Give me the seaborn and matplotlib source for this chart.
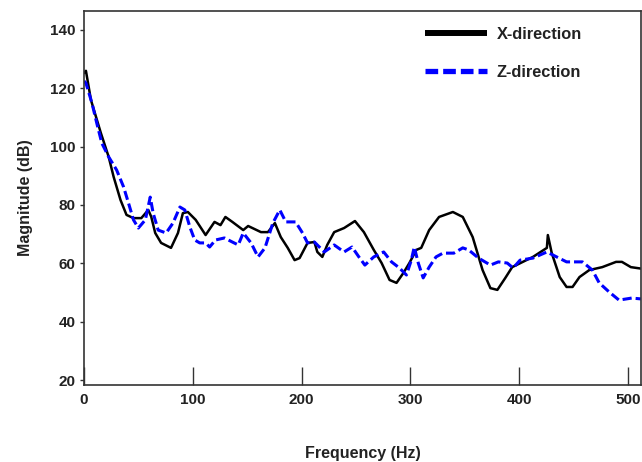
import matplotlib.pyplot as plt
import seaborn as sns
import pandas as pd

sns.set_theme(style="white")
plt.rcParams['font.family'] = ['Liberation Sans', 'DejaVu Sans']
plt.rcParams['font.weight'] = 'bold'

# X-direction response (frequency in Hz, magnitude in dB)
x_freq = [0, 1.8, 6.4, 15.5, 22.7, 27.3, 33.6, 39.1, 45.5, 52.7, 59.1, 61.8, 65.5, 70.9,
          80, 86.4, 90.9, 95.5, 102.7, 111.8, 120, 125.5, 130, 136.4, 146.4, 150.9,
          162.7, 169.1, 175.5, 180.9, 187.3, 193.6, 198.2, 205.5, 211.8, 214.5, 219.1,
          223.6, 230, 239.1, 249.1, 257.3, 266.4, 273.6, 280.9, 287.3, 293.6, 299.1,
          305.5, 310, 317.3, 326.4, 339.1, 348.2, 357.3, 366.4, 373.6, 380, 387.3,
          393.6, 412.7, 425.5, 426.4, 430, 437.3, 443.6, 449.1, 455.5, 464.5, 476.4,
          489.1, 494.5, 502.7, 512]
x_mag = [125.2, 126, 116, 104.7, 96.5, 89.6, 81.7, 76.6, 75.5, 75.5, 78.3, 76, 70.4, 67,
         65.3, 70.4, 77.2, 77.6, 74.9, 69.7, 74.2, 73.1, 75.9, 74.2, 71.4, 72.8,
         70.7, 70.7, 73.8, 69, 65.3, 61.1, 61.8, 67, 67.3, 63.9, 62.2,
         66.3, 70.7, 72.1, 74.5, 70.7, 64.6, 60.1, 54.3, 53.3, 56.7, 60.1,
         64.6, 65.3, 71.4, 75.9, 77.6, 75.9, 69, 57.7, 51.5, 50.9, 55,
         58.7, 62.2, 65.3, 69.7, 63.5, 55.3, 51.9, 51.9, 55.3, 57.7, 58.7,
         60.5, 60.5, 58.7, 58.2]

# Z-direction response
z_freq = [0, 1.8, 7.3, 11.8, 16.4, 22.7, 30, 36.4, 40.9, 45.5, 50, 56.4, 60.9, 63.6,
          68.2, 75.5, 81.8, 88.2, 92.7, 97.3, 101.8, 106.4, 111.8, 115.5, 120.9, 129.1,
          136.4, 141.8, 146.4, 153.6, 160, 166.4, 173.6, 180, 185.5, 194.5, 200.9,
          205.5, 211.8, 220.9, 230, 239.1, 246.4, 252.7, 258.2, 266.4, 275.5, 282.7,
          290, 296.4, 300.9, 303.6, 307.3, 311.8, 317.3, 323.6, 330, 340, 348.2,
          353.6, 362.7, 373.6, 380.9, 389.1, 394.5, 400.9, 412.7, 425.5, 434.5,
          443.6, 458.2, 467.3, 473.6, 482.7, 491.8, 503.6, 512]
z_mag = [122.5, 121.8, 115, 108, 101.2, 96.5, 92, 86.2, 80.7, 74.9, 72.1, 74.9, 82.7, 77.2,
         71.4, 70.4, 73.8, 79.3, 78.3, 72.5, 68, 67, 67, 65.6, 68, 68.7,
         67.3, 66.3, 70.4, 67, 62.2, 65.3, 73.8, 78.3, 74.2, 74.2, 70.4,
         67, 67.3, 63.9, 66.3, 63.9, 65.6, 62.2, 59.4, 62.2, 63.9, 60.5,
         58.4, 56, 61.1, 65.6, 60.1, 55, 58.7, 62.2, 63.5, 63.5, 65.3,
         64.6, 61.8, 59.4, 60.5, 60.1, 58.4, 61.1, 61.8, 63.9, 62.2,
         60.5, 60.5, 57.7, 53.3, 50.2, 47.4, 48.1, 47.8]

df_x = pd.DataFrame({'freq': x_freq, 'mag': x_mag})
df_z = pd.DataFrame({'freq': z_freq, 'mag': z_mag})

fig = plt.figure(figsize=(6.42, 4.62), dpi=100)
ax = fig.add_axes([0.1308, 0.1667, 0.8676, 0.8095])

sns.lineplot(data=df_x, x='freq', y='mag', color='black', linewidth=1.8,
             label='X-direction', ax=ax, estimator=None, sort=False)
sns.lineplot(data=df_z, x='freq', y='mag', color='#0000ff', linewidth=2.2,
             dashes=False, label='Z-direction', ax=ax, estimator=None, sort=False)
ax.lines[1].set_dashes((3, 1.3))

ax.set_xlim(0, 512)
ax.set_ylim(18.3, 146.5)
ax.set_xticks([0, 100, 200, 300, 400, 500])
ax.set_yticks([20, 40, 60, 80, 100, 120, 140])

for s in ax.spines.values():
    s.set_color('#333333')
    s.set_linewidth(1.2)

ax.tick_params(axis='x', direction='in', length=13, width=1, color='#333333',
               labelsize=11, pad=6, labelcolor='#222222', bottom=True)
ax.tick_params(axis='y', direction='out', length=3, width=1, color='#333333',
               labelsize=11, pad=3, labelcolor='#222222', left=True)

ax.set_xlabel("Frequency (Hz)", fontsize=11.5, fontweight='bold', labelpad=28, color='#222222')
ax.set_ylabel("Magnitude (dB)", fontsize=11.5, fontweight='bold', labelpad=12, color='#222222')

leg = ax.legend(loc='upper left', bbox_to_anchor=(0.6126, 0.958), frameon=False,
                fontsize=11.8, handlelength=3.75, handletextpad=0.6, labelspacing=1.4,
                borderpad=0, borderaxespad=0)
handles = leg.get_lines()
handles[0].set_linewidth(4.3)
handles[0].set_solid_capstyle('butt')
handles[1].set_linewidth(3.8)
handles[1].set_dashes((2.4, 0.95))
for t in leg.get_texts():
    t.set_color('#222222')

plt.savefig("out.png", dpi=100)
plt.close()
